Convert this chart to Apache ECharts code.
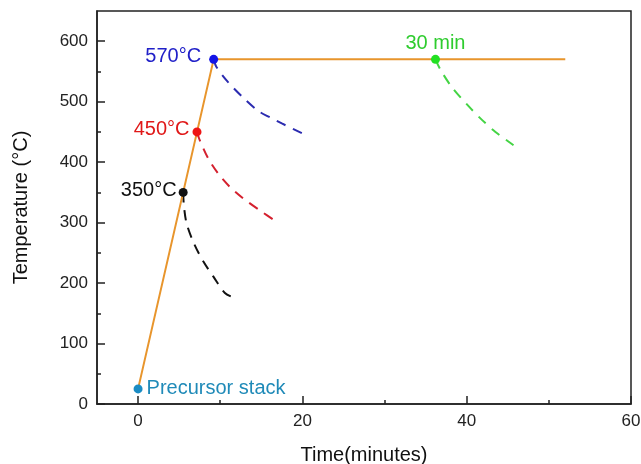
<!DOCTYPE html>
<html>
<head>
<meta charset="utf-8">
<script src="https://cdn.jsdelivr.net/npm/echarts@6/dist/echarts.min.js"></script>
<style>html,body{margin:0;padding:0;background:#fff}#c{width:641px;height:464px}</style>
</head>
<body>
<div id="c"></div>
<script>
// ---- data ----
var rampTime = [0, 9.2, 52];
var rampTemp = [25, 570, 570];

var blueTime = [9.2, 9.56, 10.98, 12.77, 14.6, 16.06, 17.5, 19.93];
var blueTemp = [570, 557, 532, 507, 485, 474, 464, 448];
var redTime = [7.17, 7.52, 8.54, 9.76, 11.18, 12.8, 15.05, 16.46];
var redTemp = [450, 436, 406, 381, 359, 340, 318, 305];
var blackTime = [5.49, 5.57, 5.9, 6.79, 7.93, 9.15, 10.57, 11.8];
var blackTemp = [350, 329, 299, 266, 236, 211, 183.5, 175];
var greenTime = [36.2, 36.8, 38.2, 40.2, 41.7, 43.5, 45.7];
var greenTemp = [570, 553, 524, 493, 472, 450, 428];

var markerNames = ['Precursor stack', '350°C', '450°C', '570°C', '30 min'];
var markerTime = [0, 5.49, 7.17, 9.2, 36.2];
var markerTemp = [25, 350, 450, 570, 570];

var xTickLabels = [0, 20, 40, 60];
var xMinorTicks = [10, 30, 50];
var yTickLabels = [0, 100, 200, 300, 400, 500, 600];
var yMinorTicks = [50, 150, 250, 350, 450, 550];

// ---- styles ----
var markerColors = ['#1a8cc4', '#111111', '#ee1515', '#1414e6', '#22e022'];
var labelColors = ['#1f8ab8', '#111111', '#e01818', '#2020c8', '#2ecc2e'];
var labelPos = ['right', 'left', 'left', 'left', 'top'];
var labelDist = [4, 2, 3, 8, 1];
var labelOffset = [[0, 0], [0, -2], [0, -2], [0, -3], [0, 0]];
var FONT = 'Liberation Sans, Arial, sans-serif';

function pairs(t, v) { return t.map(function (x, i) { return [x, v[i]]; }); }

var markerData = markerNames.map(function (n, i) {
  return {
    value: [markerTime[i], markerTemp[i]],
    name: n,
    itemStyle: { color: markerColors[i], opacity: 1 },
    label: { show: true, position: labelPos[i], color: labelColors[i], offset: labelOffset[i],
             distance: labelDist[i], fontSize: 20, fontFamily: FONT, formatter: '{b}', opacity: 1 }
  };
});

function dashed(t, v, color) {
  return {
    type: 'line', data: pairs(t, v), symbol: 'none', smooth: 0.3, z: 3,
    lineStyle: { color: color, width: 2, type: [10, 8] }, animation: false
  };
}

var tickStyle = { color: '#222', width: 1.5 };
var gridBox = { left: 97, right: 10, top: 11, bottom: 60, outerBoundsMode: 'none', containLabel: false };

var option = {
  animation: false,
  backgroundColor: '#fff',
  grid: [
    Object.assign({ show: true, borderColor: '#222', borderWidth: 1.5, backgroundColor: 'transparent' }, gridBox),
    Object.assign({ show: false }, gridBox)
  ],
  xAxis: [
    {
      gridIndex: 0, type: 'value', min: -5, max: 60, position: 'bottom',
      axisLine: { show: true, onZero: false, lineStyle: { color: '#222', width: 1.5 } },
      splitLine: { show: false },
      name: 'Time(minutes)', nameLocation: 'middle', nameGap: 41,
      nameTextStyle: { fontSize: 20, color: '#111', fontFamily: FONT },
      axisLabel: { customValues: xTickLabels, fontSize: 17, color: '#222', margin: 9, fontFamily: FONT },
      axisTick: { customValues: xTickLabels, inside: true, length: 8, lineStyle: tickStyle }
    },
    {
      gridIndex: 1, type: 'value', min: -5, max: 60, position: 'bottom',
      axisLine: { show: false, onZero: false }, splitLine: { show: false }, axisLabel: { show: false },
      axisTick: { customValues: xMinorTicks, inside: true, length: 4, lineStyle: tickStyle }
    }
  ],
  yAxis: [
    {
      gridIndex: 0, type: 'value', min: 0, max: 650, position: 'left',
      axisLine: { show: true, onZero: false, lineStyle: { color: '#222', width: 1.5 } },
      splitLine: { show: false },
      name: 'Temperature (°C)', nameLocation: 'middle', nameGap: 66, nameRotate: 90,
      nameTextStyle: { fontSize: 20, color: '#111', fontFamily: FONT },
      axisLabel: { customValues: yTickLabels, fontSize: 17, color: '#222', margin: 9, fontFamily: FONT },
      axisTick: { customValues: yTickLabels, inside: true, length: 8, lineStyle: tickStyle }
    },
    {
      gridIndex: 1, type: 'value', min: 0, max: 650, position: 'left',
      axisLine: { show: false, onZero: false }, splitLine: { show: false }, axisLabel: { show: false },
      axisTick: { customValues: yMinorTicks, inside: true, length: 4, lineStyle: tickStyle }
    }
  ],
  series: [
    dashed(blueTime, blueTemp, '#2b2bb0'),
    dashed(redTime, redTemp, '#d4202e'),
    dashed(blackTime, blackTemp, '#111111'),
    dashed(greenTime, greenTemp, '#44d444'),
    {
      type: 'line', data: pairs(rampTime, rampTemp), symbol: 'none', z: 4,
      lineStyle: { color: '#e8952c', width: 2 }, animation: false
    },
    {
      type: 'scatter', data: markerData, symbol: 'circle', symbolSize: 9, z: 5, animation: false,
      itemStyle: { opacity: 1 }
    }
  ]
};

var chart = echarts.init(document.getElementById('c'), null, { renderer: 'canvas' });
chart.setOption(option);
</script>
</body>
</html>
